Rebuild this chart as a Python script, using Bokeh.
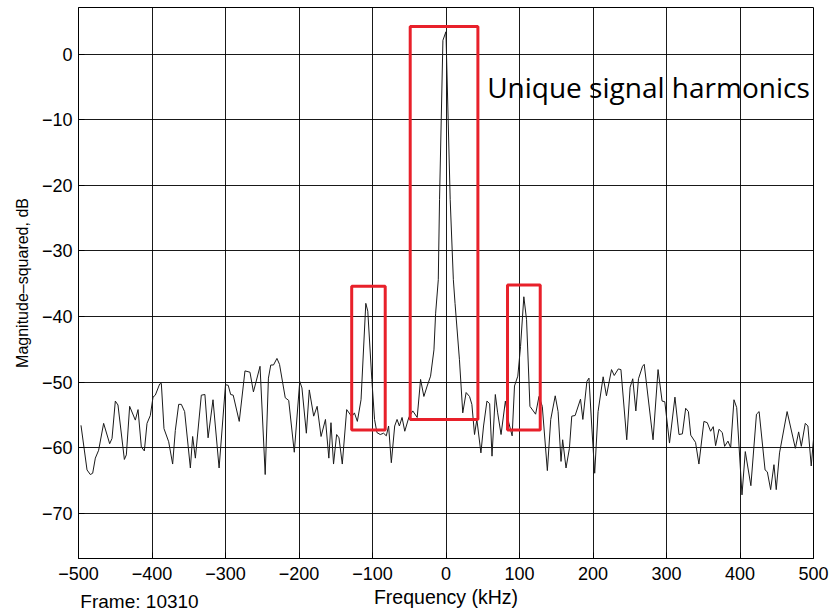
from bokeh.plotting import figure
from bokeh.models import FixedTicker, Range1d, Label, LinearAxis
from bokeh.embed import file_html
from bokeh.resources import INLINE

freq_khz = [
    -496.6, -488.4, -483.9, -480.7, -477.1, -472.6, -465.8, -457.6, -454.4, -449.9,
    -446.3, -437.6, -434.9, -430.4, -422.7, -419.0, -414.5, -410.4, -406.8, -402.3,
    -398.6, -395.5, -389.6, -387.3, -383.7, -377.3, -371.9, -368.3, -363.7, -360.1,
    -355.6, -347.8, -344.7, -341.0, -332.9, -328.0, -323.7, -317.0, -308.7, -300.0,
    -296.3, -293.0, -289.5, -281.3, -273.5, -266.7, -262.0, -253.0, -246.0, -241.6,
    -238.4, -234.7, -230.0, -226.5, -218.7, -214.0, -206.4, -199.0, -196.0, -190.0,
    -186.0, -180.0, -175.3, -170.0, -164.0, -159.4, -156.5, -153.0, -148.8, -145.6,
    -141.1, -135.1, -130.6, -128.3, -124.6, -120.6, -115.6, -109.1, -106.4, -100.9,
    -97.2, -94.0, -89.5, -84.9, -81.2, -78.1, -74.4, -69.8, -66.6, -63.4,
    -59.8, -56.1, -50.6, -45.2, -39.2, -34.6, -30.1, -25.6, -21.0, -16.4,
    -14.1, -10.5, -8.8, -4.2, -0.1, 5.7, 10.0, 12.3, 18.3, 22.8,
    27.4, 32.0, 35.2, 38.8, 42.0, 47.5, 51.1, 55.7, 59.4, 62.6,
    67.1, 70.3, 74.9, 80.8, 85.4, 90.0, 93.2, 97.7, 101.4, 105.9,
    109.6, 114.2, 121.9, 126.5, 131.0, 137.9, 142.5, 148.6, 152.5, 156.5,
    158.7, 163.3, 167.9, 171.1, 175.7, 183.0, 186.2, 191.7, 194.5, 198.6,
    202.3, 206.9, 213.8, 218.3, 225.2, 228.9, 234.4, 238.0, 245.9, 250.5,
    254.1, 258.3, 261.9, 267.4, 269.7, 281.7, 288.5, 294.0, 297.7, 304.1,
    311.5, 317.0, 321.6, 326.1, 329.8, 333.0, 339.5, 344.1, 350.9, 355.5,
    360.0, 363.6, 366.8, 371.4, 375.9, 379.1, 383.6, 387.3, 391.8, 395.5,
    402.7, 407.2, 414.8, 422.4, 426.0, 434.1, 437.2, 441.7, 446.2, 449.3,
    453.8, 464.1, 475.3, 479.8, 483.4, 488.8, 492.4, 496.9, 500.0,
]
mag_db = [
    -56.6, -63.4, -64.1, -63.9, -61.6, -60.4, -56.3, -59.4, -58.6, -52.9,
    -53.5, -61.8, -61.1, -53.7, -55.8, -54.2, -59.9, -60.5, -56.3, -55.1,
    -52.3, -52.0, -50.3, -50.2, -57.1, -59.1, -62.5, -57.4, -53.4, -53.4,
    -54.5, -63.1, -58.3, -61.6, -52.0, -51.9, -58.5, -52.7, -63.1, -50.4,
    -50.5, -51.9, -52.0, -56.0, -48.3, -48.5, -51.5, -47.6, -64.1, -49.4,
    -47.4, -47.4, -46.4, -47.3, -52.4, -52.8, -60.7, -49.9, -50.9, -57.8,
    -51.2, -55.2, -53.7, -58.3, -55.7, -61.6, -56.2, -62.5, -58.0, -58.5,
    -62.5, -54.2, -54.9, -55.3, -54.7, -56.0, -52.7, -38.0, -39.2, -49.6,
    -55.7, -57.7, -58.0, -57.8, -58.2, -56.7, -62.3, -56.7, -55.7, -56.7,
    -55.4, -57.5, -55.4, -54.4, -55.4, -49.6, -52.2, -50.6, -49.1, -45.1,
    -39.5, -34.4, -22.2, 2.1, 3.4, -22.2, -34.4, -38.0, -46.6, -54.7,
    -51.6, -52.2, -53.4, -58.0, -55.7, -60.8, -56.7, -52.9, -53.3, -61.3,
    -51.9, -54.7, -58.0, -52.9, -56.2, -58.2, -50.6, -49.1, -44.6, -37.0,
    -40.5, -53.7, -54.9, -52.2, -53.7, -63.5, -55.7, -52.1, -54.5, -62.1,
    -58.8, -63.1, -60.1, -55.2, -55.1, -52.6, -55.7, -49.9, -49.4, -57.3,
    -63.9, -54.5, -49.2, -52.1, -48.1, -49.0, -48.0, -48.1, -58.8, -50.8,
    -49.5, -54.4, -49.5, -47.6, -47.3, -58.8, -48.1, -52.9, -53.0, -59.3,
    -52.3, -58.0, -57.9, -54.0, -54.5, -58.1, -59.2, -62.5, -56.0, -56.2,
    -57.5, -56.8, -59.7, -57.2, -57.7, -59.8, -59.0, -60.0, -52.7, -53.9,
    -67.2, -60.6, -65.8, -54.9, -54.5, -63.4, -63.7, -66.4, -62.6, -66.4,
    -60.8, -54.5, -60.1, -57.6, -59.8, -56.3, -56.7, -62.8, -58.7,
]

x_ticks = [-500, -400, -300, -200, -100, 0, 100, 200, 300, 400, 500]
y_ticks = [0, -10, -20, -30, -40, -50, -60, -70]

# highlighted regions (kHz, dB)
box_left = [-128.3, -48.7, 83.7]
box_right = [-82.7, 43.4, 128.2]
box_top = [-35.4, 4.2, -35.2]
box_bottom = [-57.3, -55.7, -57.3]

frame_text = "Frame: 10310"
frame_text_at = -417

FONT = "Liberation Sans"

p = figure(width=830, height=614, output_backend="svg", toolbar_location=None,
           x_range=Range1d(-500, 500), y_range=Range1d(-76.9, 7.1),
           min_border_left=78, min_border_right=17, min_border_top=7,
           min_border_bottom=55)
p.background_fill_color = "white"
p.border_fill_color = "white"
p.outline_line_color = "black"
p.outline_line_width = 1

p.xaxis.ticker = FixedTicker(ticks=x_ticks)
p.yaxis.ticker = FixedTicker(ticks=y_ticks)
p.xgrid.ticker = FixedTicker(ticks=x_ticks)
p.ygrid.ticker = FixedTicker(ticks=y_ticks)
for g in (p.xgrid, p.ygrid):
    g.grid_line_color = "black"
    g.grid_line_alpha = 0.9
    g.grid_line_width = 1

p.xaxis.major_label_overrides = {t: str(t).replace("-", "\u2212") for t in x_ticks}
p.yaxis.major_label_overrides = {t: str(t).replace("-", "\u2212") for t in y_ticks}

for ax in (p.xaxis, p.yaxis):
    ax.axis_line_color = "black"
    ax.major_tick_in = 6
    ax.major_tick_out = 0
    ax.minor_tick_line_color = None
    ax.major_label_text_font = FONT
    ax.major_label_text_font_size = "18px"
    ax.major_label_text_color = "black"
    ax.axis_label_text_font = FONT
    ax.axis_label_text_font_style = "normal"
    ax.axis_label_text_color = "black"

p.xaxis.axis_label = "Frequency (kHz)"
p.yaxis.axis_label = "Magnitude\u2013squared, dB"
p.xaxis.axis_label_text_font_size = "19.5px"
p.yaxis.axis_label_text_font_size = "16px"
p.xaxis.major_label_standoff = 8
p.xaxis.axis_label_standoff = 3
p.yaxis.major_label_standoff = 6
p.yaxis.axis_label_standoff = 8

# caption under the axis, drawn as the only label of a bare extra axis
cap = LinearAxis(ticker=FixedTicker(ticks=[frame_text_at]),
                 major_label_overrides={frame_text_at: frame_text},
                 axis_line_color=None, major_tick_line_color=None,
                 minor_tick_line_color=None,
                 major_label_text_font=FONT,
                 major_label_text_font_size="19px",
                 major_label_text_color="black",
                 major_label_standoff=-26)
p.add_layout(cap, "below")

p.line(freq_khz, mag_db, line_color="#1a1a1a", line_width=1)

p.quad(left=box_left, right=box_right, top=box_top, bottom=box_bottom,
       fill_alpha=0, line_color="#e8202a", line_width=3)

p.add_layout(Label(x=56, y=-5, text="Unique signal harmonics",
                   text_font="Open Sans", text_font_size="28px",
                   text_baseline="middle", text_color="black"))

open("out.html", "w").write(file_html(p, INLINE))
